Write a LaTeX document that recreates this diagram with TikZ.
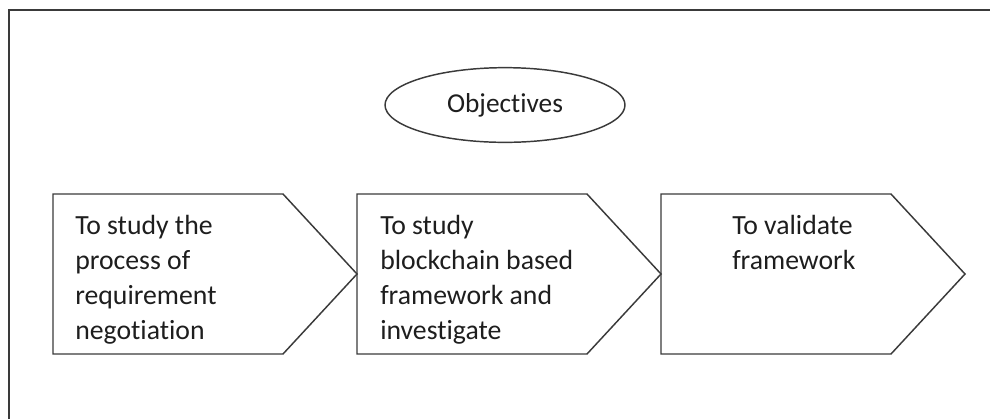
\documentclass[tikz,border=0pt]{standalone}
\usepackage{fontspec}
\setmainfont[Ligatures=NoCommon]{Carlito}
\usetikzlibrary{shapes.geometric}
\definecolor{edge}{HTML}{3A3A3A}
\definecolor{ink}{HTML}{1E1E1E}
\begin{document}
\begin{tikzpicture}[x=0.75pt,y=-0.75pt,
  frameline/.style={draw=edge, line width=1.3pt},
  chevron/.style={draw=edge, line width=1.1pt, line join=miter},
  goal/.style={draw=edge, line width=1.1pt, ellipse, inner sep=0pt,
    minimum width=180pt, minimum height=56pt, text=ink,
    font=\fontsize{20.5pt}{26.25pt}\selectfont},
  steptext/.style={anchor=north west, inner sep=0pt, align=left, text=ink,
    font=\fontsize{20.8pt}{26.25pt}\selectfont}]
  \useasboundingbox (0,0) rectangle (990,419);

  % outer frame (left and top edges)
  \coordinate (fbl) at (9,419);
  \coordinate (ftl) at (9,10);
  \coordinate (ftr) at (990,10);
  \draw[frameline] (fbl) -- (ftl) -- (ftr);

  % heading ellipse
  \node[goal] (obj) at (505,105) {Objectives};

  % three chevron steps
  \foreach \i/\x in {1/53, 2/357, 3/661} {
    \coordinate (c\i a) at (\x,194);
    \coordinate (c\i b) at ({\x+230},194);
    \coordinate (c\i c) at ({\x+304},274);
    \coordinate (c\i d) at ({\x+230},354);
    \coordinate (c\i e) at (\x,354);
    \draw[chevron] (c\i a) -- (c\i b) -- (c\i c) -- (c\i d) -- (c\i e) -- cycle;
  }

  \node[steptext] (s1) at (75,215) {To study\ the\\process of\\requirement\\negotiation};
  \node[steptext] (s2) at (380,215) {To study\\blockchain based\\framework and\\investigate};
  \node[steptext] (s3) at (732,215) {To validate\\framework};
\end{tikzpicture}
\end{document}
